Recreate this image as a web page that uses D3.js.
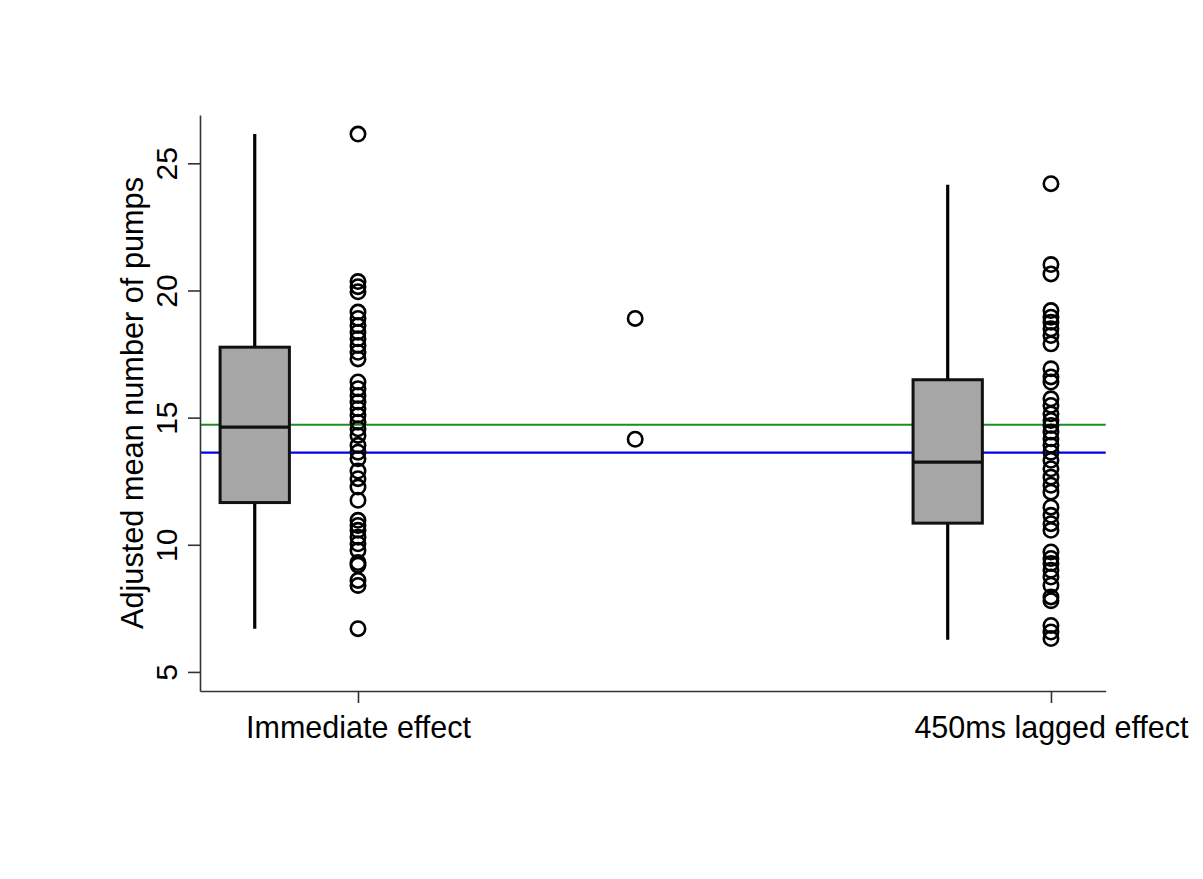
<!DOCTYPE html>
<html>
<head>
<meta charset="utf-8">
<script src="https://cdn.jsdelivr.net/npm/d3@7"></script>
<style>
  body { margin: 0; background: #fff; }
  text { font-family: "Liberation Sans", Arial, sans-serif; fill: #000; }
</style>
</head>
<body>
<div id="chart"></div>
<script>
// categories and their positions on the x scale
const categories = ["Immediate effect", "450ms lagged effect"];
const catPos = [1, 2];

// box summaries per category
const whiskerLow = [6.7, 6.27];
const boxQ1 = [11.66, 10.85];
const boxMedian = [14.63, 13.25];
const boxQ3 = [17.77, 16.49];
const whiskerHigh = [26.15, 24.16];

// individual points per category
const immediatePoints = [26.15, 20.35, 20.15, 19.95, 19.15, 18.9, 18.62, 18.36, 18.1, 17.84,
  17.57, 17.31, 16.4, 16.14, 15.87, 15.61, 15.35, 15.09, 14.82, 14.56, 14.3, 13.91, 13.64,
  13.38, 12.9, 12.6, 12.27, 11.75, 10.96, 10.76, 10.57, 10.3, 10.04, 9.78, 9.3, 9.2,
  8.6, 8.4, 6.7];
const laggedPoints = [24.2, 21.02, 20.65, 19.21, 18.95, 18.75, 18.49, 18.23, 17.9, 16.92,
  16.6, 16.4, 15.74, 15.48, 15.15, 14.89, 14.69, 14.43, 14.17, 13.91, 13.64, 13.32, 12.99,
  12.66, 12.34, 12.07, 11.48, 11.16, 10.83, 10.57, 9.72, 9.46, 9.26, 9.0, 8.73, 8.41,
  7.95, 7.8, 6.83, 6.57, 6.31];

// two stray points in the middle of the plot
const middlePos = 1.4;
const middlePoints = [18.9, 14.15];

// horizontal reference lines
const greenLine = 14.72;
const blueLine = 13.62;

const width = 1203, height = 879;

const svg = d3.select("#chart").append("svg")
    .attr("width", width)
    .attr("height", height);

const x = d3.scaleLinear().domain([0.772, 2.079]).range([200, 1105.7]);
const y = d3.scaleLinear().domain([4.25, 26.9]).range([691, 115]);

const boxOffset = -0.149, boxHalf = 0.05;

// reference lines
svg.append("line")
    .attr("x1", x.range()[0]).attr("x2", x.range()[1])
    .attr("y1", y(greenLine)).attr("y2", y(greenLine))
    .attr("stroke", "#1f8c1f").attr("stroke-width", 2.2);
svg.append("line")
    .attr("x1", x.range()[0]).attr("x2", x.range()[1])
    .attr("y1", y(blueLine)).attr("y2", y(blueLine))
    .attr("stroke", "#0000ee").attr("stroke-width", 2.2);

// boxplots
const boxes = svg.selectAll(".box")
    .data(catPos.map((p, i) => ({ p: p + boxOffset, lo: whiskerLow[i], q1: boxQ1[i],
      med: boxMedian[i], q3: boxQ3[i], hi: whiskerHigh[i] })))
    .enter().append("g").attr("class", "box");

boxes.append("line")
    .attr("x1", d => x(d.p)).attr("x2", d => x(d.p))
    .attr("y1", d => y(d.lo)).attr("y2", d => y(d.hi))
    .attr("stroke", "#000").attr("stroke-width", 3.2);

boxes.append("rect")
    .attr("x", d => x(d.p - boxHalf))
    .attr("width", d => x(d.p + boxHalf) - x(d.p - boxHalf))
    .attr("y", d => y(d.q3))
    .attr("height", d => y(d.q1) - y(d.q3))
    .attr("fill", "#a6a6a6")
    .attr("stroke", "#111").attr("stroke-width", 3);

boxes.append("line")
    .attr("x1", d => x(d.p - boxHalf)).attr("x2", d => x(d.p + boxHalf))
    .attr("y1", d => y(d.med)).attr("y2", d => y(d.med))
    .attr("stroke", "#111").attr("stroke-width", 3.2);

// points
const allPoints = []
  .concat(immediatePoints.map(v => ({ p: catPos[0], v })))
  .concat(laggedPoints.map(v => ({ p: catPos[1], v })))
  .concat(middlePoints.map(v => ({ p: middlePos, v })));

svg.selectAll(".pt")
    .data(allPoints)
    .enter().append("circle")
    .attr("class", "pt")
    .attr("cx", d => x(d.p))
    .attr("cy", d => y(d.v))
    .attr("r", 7.2)
    .attr("fill", "none")
    .attr("stroke", "#000")
    .attr("stroke-width", 2.6);

// axes
const yAxis = svg.append("g")
    .attr("transform", "translate(200,0)")
    .call(d3.axisLeft(y).tickValues([5, 10, 15, 20, 25]).tickSize(12).tickSizeOuter(0).tickPadding(8));

yAxis.selectAll("text")
    .attr("transform", "rotate(-90)")
    .attr("x", 0).attr("y", -23).attr("dy", 0)
    .style("text-anchor", "middle")
    .style("font-size", "30px");

const xAxis = svg.append("g")
    .attr("transform", "translate(0,691)")
    .call(d3.axisBottom(x).tickValues(catPos).tickFormat((d, i) => categories[i])
      .tickSize(12).tickSizeOuter(0));

xAxis.selectAll("text")
    .attr("y", 47).attr("dy", 0)
    .style("font-size", "30.5px");

svg.selectAll(".domain, .tick line")
    .attr("stroke", "#333").attr("stroke-width", 1.6);

// y label
svg.append("text")
    .attr("transform", "translate(143,403) rotate(-90)")
    .style("text-anchor", "middle")
    .style("font-size", "30.7px")
    .text("Adjusted mean number of pumps");
</script>
</body>
</html>
